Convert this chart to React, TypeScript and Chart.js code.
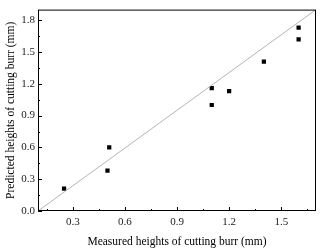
import React, { useEffect, useRef } from "react";
import { Chart, registerables } from "chart.js";

Chart.register(...registerables);

const measured = [0.25, 0.5, 0.51, 1.1, 1.1, 1.2, 1.4, 1.6, 1.6];
const predicted = [0.21, 0.38, 0.6, 1.16, 1.0, 1.13, 1.41, 1.73, 1.62];
const refLineX = [0.1, 1.7];
const refLineY = [0.0, 1.9];
const xTicks = [0.3, 0.6, 0.9, 1.2, 1.5];
const xMinorTicks = [0.15, 0.45, 0.75, 1.05, 1.35, 1.65];
const yTicks = [0.0, 0.3, 0.6, 0.9, 1.2, 1.5, 1.8];
const yMinorTicks = [0.15, 0.45, 0.75, 1.05, 1.35, 1.65];
const xTitle = "Measured heights of cutting burr (mm)";
const yTitle = "Predicted heights of cutting burr (mm)";

const FONT = "'Liberation Serif', 'Times New Roman', serif";

const framePlugin = {
  id: "frameTicks",
  afterDraw(chart: any) {
    const { ctx, chartArea } = chart;
    const xs = chart.scales.x;
    const ys = chart.scales.y;
    const { left, right, top, bottom } = chartArea;
    ctx.save();
    ctx.strokeStyle = "#000";
    ctx.lineWidth = 1;
    ctx.strokeRect(left + 0.5, top + 0.5, right - left - 1, bottom - top - 1);
    ctx.beginPath();
    xTicks.forEach((v) => {
      const px = Math.round(xs.getPixelForValue(v)) + 0.5;
      ctx.moveTo(px, bottom);
      ctx.lineTo(px, bottom - 4);
    });
    xMinorTicks.forEach((v) => {
      const px = Math.round(xs.getPixelForValue(v)) + 0.5;
      ctx.moveTo(px, bottom);
      ctx.lineTo(px, bottom - 2);
    });
    yTicks.forEach((v) => {
      const py = Math.round(ys.getPixelForValue(v)) + 0.5;
      ctx.moveTo(left, py);
      ctx.lineTo(left + 4, py);
    });
    yMinorTicks.forEach((v) => {
      const py = Math.round(ys.getPixelForValue(v)) + 0.5;
      ctx.moveTo(left, py);
      ctx.lineTo(left + 2, py);
    });
    ctx.stroke();
    ctx.restore();
  },
};

export default function App() {
  const ref = useRef<HTMLCanvasElement | null>(null);
  useEffect(() => {
    document.body.style.margin = "0";
    const canvas = ref.current!;
    const chart = new Chart(canvas, {
      type: "scatter",
      data: {
        datasets: [
          {
            type: "line",
            data: refLineX.map((x, i) => ({ x, y: refLineY[i] })),
            borderColor: "#b4b4b4",
            borderWidth: 1,
            pointRadius: 0,
            fill: false,
          } as any,
          {
            data: measured.map((x, i) => ({ x, y: predicted[i] })),
            backgroundColor: "#000",
            borderColor: "#000",
            pointStyle: "rect",
            pointRadius: 3,
            borderWidth: 0,
          },
        ],
      },
      options: {
        animation: false,
        responsive: false,
        maintainAspectRatio: false,
        layout: { padding: { top: 3, right: 4, left: 0, bottom: 0 } },
        plugins: { legend: { display: false }, tooltip: { enabled: false } },
        scales: {
          x: {
            type: "linear",
            min: 0.1,
            max: 1.7,
            grid: { display: false, drawTicks: false },
            border: { display: false },
            afterBuildTicks: (s: any) => {
              s.ticks = xTicks.map((v) => ({ value: v }));
            },
            afterFit: (s: any) => {
              s.height = 38;
            },
            ticks: {
              padding: 5,
              color: "#222",
              font: { family: FONT, size: 11 },
              callback: (v: any) => Number(v).toFixed(1),
              maxRotation: 0,
            },
            title: {
              display: true,
              text: xTitle,
              color: "#000",
              font: { family: FONT, size: 11.5 },
              padding: { top: 2, bottom: 0 },
            },
          },
          y: {
            type: "linear",
            min: 0,
            max: 1.9,
            grid: { display: false, drawTicks: false },
            border: { display: false },
            afterBuildTicks: (s: any) => {
              s.ticks = yTicks.map((v) => ({ value: v }));
            },
            afterFit: (s: any) => {
              s.width = 38;
            },
            ticks: {
              padding: 3,
              color: "#222",
              font: { family: FONT, size: 11 },
              callback: (v: any) => Number(v).toFixed(1),
            },
            title: {
              display: true,
              text: yTitle,
              color: "#000",
              font: { family: FONT, size: 11.5 },
              padding: { top: 4, bottom: 0 },
            },
          },
        },
      },
      plugins: [framePlugin],
    });
    return () => chart.destroy();
  }, []);
  return (
    <div style={{ width: 320, height: 249 }}>
      <canvas ref={ref} width={320} height={249} style={{ display: "block" }} />
    </div>
  );
}
